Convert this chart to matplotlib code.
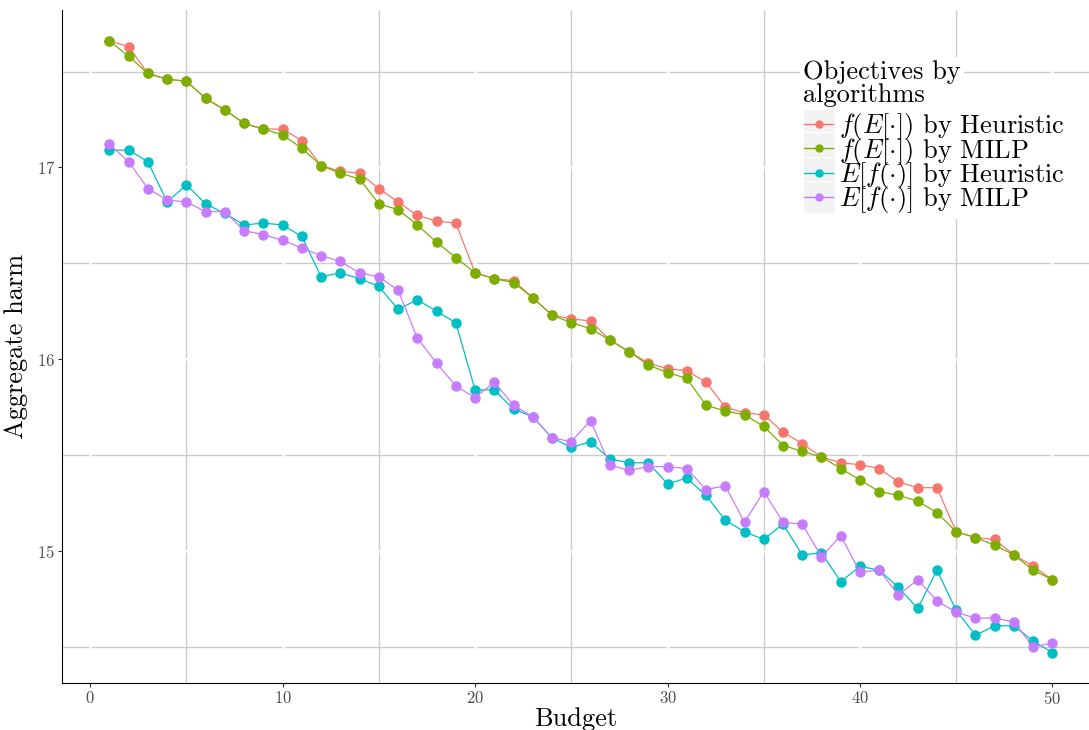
import numpy as np
import matplotlib
matplotlib.use("Agg")
import matplotlib.pyplot as plt
from matplotlib.legend_handler import HandlerBase
from matplotlib.patches import Rectangle
from matplotlib.lines import Line2D

plt.rcParams['font.family'] = 'cmr10'
plt.rcParams['mathtext.fontset'] = 'cm'
plt.rcParams['axes.unicode_minus'] = False
plt.rcParams['axes.formatter.use_mathtext'] = True

budget = np.arange(1, 51)

f_E_heur = [17.66, 17.63, 17.49, 17.46, 17.45, 17.36, 17.30, 17.23, 17.20, 17.20,
            17.14, 17.01, 16.98, 16.97, 16.89, 16.82, 16.75, 16.72, 16.71, 16.45,
            16.42, 16.41, 16.32, 16.23, 16.21, 16.20, 16.10, 16.04, 15.98, 15.95,
            15.94, 15.88, 15.75, 15.72, 15.71, 15.62, 15.56, 15.49, 15.46, 15.45,
            15.43, 15.36, 15.33, 15.33, 15.10, 15.07, 15.06, 14.98, 14.92, 14.85]
f_E_milp = [17.66, 17.58, 17.49, 17.46, 17.45, 17.36, 17.30, 17.23, 17.20, 17.17,
            17.10, 17.01, 16.97, 16.94, 16.81, 16.78, 16.70, 16.61, 16.53, 16.45,
            16.42, 16.40, 16.32, 16.23, 16.19, 16.16, 16.10, 16.04, 15.97, 15.93,
            15.90, 15.76, 15.73, 15.71, 15.65, 15.55, 15.52, 15.49, 15.43, 15.37,
            15.31, 15.29, 15.26, 15.20, 15.10, 15.07, 15.03, 14.98, 14.90, 14.85]
Ef_heur = [17.09, 17.09, 17.03, 16.82, 16.91, 16.81, 16.76, 16.70, 16.71, 16.70,
           16.64, 16.43, 16.45, 16.42, 16.38, 16.26, 16.31, 16.25, 16.19, 15.84,
           15.84, 15.74, 15.70, 15.59, 15.54, 15.57, 15.48, 15.46, 15.46, 15.35,
           15.38, 15.29, 15.16, 15.10, 15.06, 15.14, 14.98, 14.99, 14.84, 14.92,
           14.90, 14.81, 14.70, 14.90, 14.69, 14.56, 14.61, 14.61, 14.53, 14.47]
Ef_milp = [17.12, 17.03, 16.89, 16.83, 16.82, 16.77, 16.77, 16.67, 16.65, 16.62,
           16.58, 16.54, 16.51, 16.45, 16.43, 16.36, 16.11, 15.98, 15.86, 15.80,
           15.88, 15.76, 15.70, 15.59, 15.57, 15.68, 15.45, 15.42, 15.44, 15.44,
           15.43, 15.32, 15.34, 15.15, 15.31, 15.15, 15.14, 14.97, 15.08, 14.89,
           14.90, 14.77, 14.85, 14.74, 14.68, 14.65, 14.65, 14.63, 14.50, 14.52]

series = [f_E_heur, f_E_milp, Ef_heur, Ef_milp]
labels = [r'$f(E[\cdot])$ by Heuristic', r'$f(E[\cdot])$ by MILP',
          r'$E[f(\cdot)]$ by Heuristic', r'$E[f(\cdot)]$ by MILP']
colors = ['#F8766D', '#7CAE00', '#00BFC4', '#C77CFF']


class KeyHandler(HandlerBase):
    # ggplot style key: grey square with line + point
    def create_artists(self, legend, orig_handle, xdescent, ydescent,
                       width, height, fontsize, trans):
        s = 23
        x0 = -xdescent + (width - s) / 2
        y0 = -ydescent + (height - s) / 2
        bg = Rectangle((x0, y0), s, s, facecolor='#f2f2f2', edgecolor='white',
                       lw=1, transform=trans)
        yc = y0 + s / 2
        ln = Line2D([x0 + 1, x0 + s - 1], [yc, yc], color=orig_handle.get_color(),
                    lw=1.0, transform=trans)
        pt = Line2D([x0 + s / 2], [yc], marker='o', markersize=5,
                    color=orig_handle.get_color(), lw=0, transform=trans)
        return [bg, ln, pt]


W, H = 1089, 730
fig = plt.figure(figsize=(W / 100, H / 100), dpi=100)
ax = fig.add_axes([0.057, 0.064, 0.943, 0.922])

lines = []
for y, lab, c in zip(series, labels, colors):
    l, = ax.plot(budget, y, '-o', color=c, lw=0.9, markersize=6.5, label=lab, zorder=3)
    lines.append(l)

ax.set_xlim(-1.46, 51.9)
ax.set_ylim(14.31, 17.82)
ax.set_xticks([0, 10, 20, 30, 40, 50])
ax.set_yticks([15, 16, 17])
ax.set_xticks([5, 15, 25, 35, 45], minor=True)
ax.set_yticks([14.5, 15.5, 16.5, 17.5], minor=True)

ax.set_axisbelow(True)
ax.grid(which='minor', color='#cccccc', lw=1.0)
for v in [-10, 0, 10, 20, 30, 40, 50]:
    ax.axvline(v, color='white', lw=1.8, zorder=0.6)
for v in [15, 16, 17]:
    ax.axhline(v, color='white', lw=1.8, zorder=0.6)

for s in ['top', 'right']:
    ax.spines[s].set_visible(False)
ax.spines['left'].set_color('black')
ax.spines['bottom'].set_color('black')
ax.tick_params(which='major', length=3, pad=2, color='#333333', labelcolor='#4d4d4d', labelsize=12)
ax.tick_params(which='minor', length=0)

ax.set_xlabel('Budget', fontsize=19, labelpad=0)
ax.set_ylabel('Aggregate harm', fontsize=19, labelpad=6)

# legend entries (title drawn separately above them)
leg = ax.legend(handles=lines, labels=labels,
                loc='upper left', bbox_to_anchor=(785 / W, 1 - 94 / H),
                bbox_transform=fig.transFigure, fontsize=19,
                frameon=True, fancybox=False, framealpha=1,
                edgecolor='white', handler_map={Line2D: KeyHandler()},
                handlelength=1.25, handletextpad=0.15, labelspacing=-0.25,
                borderpad=0.15)
leg.get_frame().set_linewidth(0)
leg.set_zorder(5)

fig.text(803 / W, 1 - 60 / H, 'Objectives by\nalgorithms', fontsize=19,
         ha='left', va='top', linespacing=1.0, zorder=6,
         bbox=dict(facecolor='white', edgecolor='none', pad=2))

fig.savefig('out.png', dpi=100)
